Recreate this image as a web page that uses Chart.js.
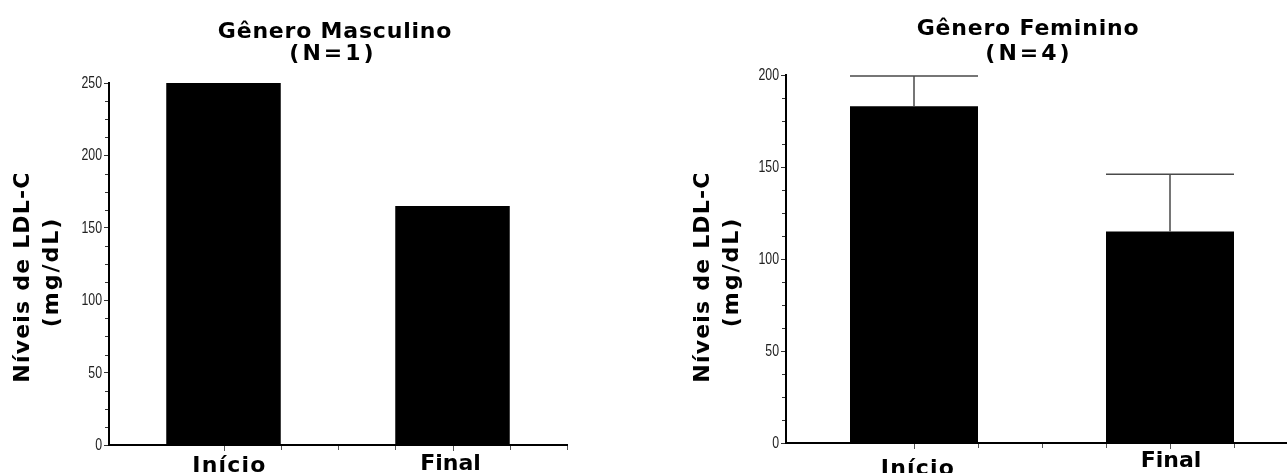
<!DOCTYPE html>
<html>
<head>
<meta charset="utf-8">
<script src="https://cdn.jsdelivr.net/npm/chart.js@4.4.1/dist/chart.umd.min.js"></script>
<style>
  html, body { margin: 0; padding: 0; background: #fff; overflow: hidden; width: 1287px; height: 473px; }
  canvas { position: absolute; top: 0; }
  #c1 { left: 0; }
  #c2 { left: 680px; }
</style>
</head>
<body>
<canvas id="c1" width="580" height="473"></canvas>
<canvas id="c2" width="618" height="473"></canvas>
<script>
// ---- data ----
const categories = ['Início', 'Final'];
const maleValues = [250, 165];
const femaleValues = [183, 115];
const femaleErrors = [16.5, 31];
const maleTickLabels = [0, 50, 100, 150, 200, 250];
const femaleTickLabels = [0, 50, 100, 150, 200];
const maleTitle = ['Gênero Masculino', '(N=1)'];
const femaleTitle = ['Gênero Feminino', '(N=4)'];
const yTitle = ['Níveis de LDL-C', '(mg/dL)'];

const BOLD = "'DejaVu Sans', Verdana, sans-serif";
const TICKF = "'Liberation Sans', Arial, sans-serif";

const deco = {
  id: 'deco',
  afterDatasetsDraw(chart, args, o) {
    const ctx = chart.ctx;
    const xs = chart.scales.x, ys = chart.scales.y;
    const area = chart.chartArea;
    ctx.save();
    // minor y ticks
    ctx.strokeStyle = '#333';
    ctx.lineWidth = 1;
    for (let v = 0; v <= ys.max + 0.001; v += o.minorStep) {
      if (Math.abs(v % 50) < 0.001) continue;
      const y = Math.round(ys.getPixelForValue(v)) + 0.5;
      ctx.beginPath(); ctx.moveTo(area.left - 4, y); ctx.lineTo(area.left - 1, y); ctx.stroke();
    }
    // y tick labels (condensed)
    ctx.fillStyle = '#222';
    ctx.font = '16px ' + TICKF;
    ctx.textAlign = 'right';
    ctx.textBaseline = 'middle';
    o.tickLabels.forEach(v => {
      ctx.save();
      ctx.translate(area.left - 7, ys.getPixelForValue(v) + 0.5);
      ctx.scale(0.77, 1);
      ctx.fillText(String(v), 0, 0);
      ctx.restore();
    });
    // x ticks
    ctx.strokeStyle = '#555';
    for (let v = 0; v <= categories.length - 0.5 + 0.001; v += 0.25) {
      const x = Math.round(xs.getPixelForValue(v)) + 0.5;
      const len = (Math.abs(v - Math.round(v)) < 0.001) ? 5 : 4;
      ctx.beginPath(); ctx.moveTo(x, area.bottom + 1); ctx.lineTo(x, area.bottom + 1 + len); ctx.stroke();
    }
    // error bars
    if (o.errors) {
      const meta = chart.getDatasetMeta(0);
      const vals = chart.data.datasets[0].data;
      ctx.strokeStyle = '#4a4a4a';
      ctx.lineWidth = 1.5;
      meta.data.forEach((bar, i) => {
        const yTop = ys.getPixelForValue(vals[i] + o.errors[i]);
        const half = bar.width / 2;
        ctx.beginPath();
        ctx.moveTo(bar.x, bar.y); ctx.lineTo(bar.x, yTop);
        ctx.moveTo(bar.x - half, yTop); ctx.lineTo(bar.x + half, yTop);
        ctx.stroke();
      });
    }
    // titles
    ctx.fillStyle = '#000';
    ctx.textAlign = 'center';
    ctx.textBaseline = 'alphabetic';
    ctx.font = 'bold 22px ' + BOLD;
    ctx.letterSpacing = '0.8px';
    ctx.fillText(o.title[0], o.titleX, o.titleY[0]);
    ctx.letterSpacing = '3px';
    ctx.fillText(o.title[1], o.titleX + o.title2Dx, o.titleY[1]);
    // y title
    ctx.font = 'bold 22px ' + BOLD;
    ctx.textBaseline = 'middle';
    ctx.letterSpacing = '1.2px';
    ctx.save(); ctx.translate(o.yTitleX[0], o.yTitleY[0]); ctx.rotate(-Math.PI / 2);
    ctx.fillText(yTitle[0], 0, 0); ctx.restore();
    ctx.letterSpacing = '2px';
    ctx.save(); ctx.translate(o.yTitleX[1], o.yTitleY[1]); ctx.rotate(-Math.PI / 2);
    ctx.fillText(yTitle[1], 0, 0); ctx.restore();
    // x category labels
    ctx.textBaseline = 'alphabetic';
    ctx.font = 'bold 22px ' + BOLD;
    categories.forEach((c, i) => {
      ctx.letterSpacing = o.xLabelSpacing[i] + 'px';
      ctx.fillText(c, xs.getPixelForValue(i) + o.xLabelDx[i], o.xLabelY[i]);
    });
    ctx.restore();
  }
};

function makeChart(id, values, tickLabels, opts) {
  const yMax = tickLabels[tickLabels.length - 1];
  return new Chart(document.getElementById(id), {
    type: 'bar',
    data: {
      labels: categories,
      datasets: [{
        data: values,
        backgroundColor: '#000',
        borderWidth: 0,
        categoryPercentage: 0.5,
        barPercentage: 1.0
      }]
    },
    options: {
      responsive: false,
      animation: false,
      devicePixelRatio: 1,
      layout: { padding: { top: opts.top, right: opts.right, left: 0, bottom: 0 } },
      plugins: { legend: { display: false }, tooltip: { enabled: false }, deco: Object.assign({ tickLabels }, opts.deco) },
      scales: {
        x: {
          type: 'category',
          offset: true,
          grid: { display: false },
          border: { display: true, color: '#000', width: 2 },
          ticks: { display: false },
          afterFit: s => { s.height = opts.xHeight; }
        },
        y: {
          min: 0, max: yMax,
          afterBuildTicks: s => { s.ticks = tickLabels.map(v => ({ value: v })); },
          grid: { display: true, drawOnChartArea: false, drawTicks: true, tickLength: 5, tickColor: '#333', tickWidth: 1 },
          border: { display: true, color: '#000', width: 2 },
          ticks: { padding: 2, color: 'rgba(0,0,0,0)', font: { size: 15 } },
          afterFit: s => { s.width = opts.yWidth; }
        }
      }
    },
    plugins: [deco]
  });
}

makeChart('c1', maleValues, maleTickLabels, {
  top: 83, right: 13, xHeight: 28, yWidth: 109,
  deco: {
    minorStep: 12.5, errors: null, title: maleTitle, titleX: 335, title2Dx: -2, titleY: [38, 60],
    yTitleX: [23, 52], yTitleY: [277, 272], xLabelY: [472, 470], xLabelDx: [6, -2], xLabelSpacing: [1.2, 0]
  }
});
makeChart('c2', femaleValues, femaleTickLabels, {
  top: 75, right: 0, xHeight: 30, yWidth: 106,
  deco: {
    minorStep: 12.5, errors: femaleErrors, title: femaleTitle, titleX: 348, title2Dx: 1, titleY: [35, 60],
    yTitleX: [23, 52], yTitleY: [277, 272], xLabelY: [475, 467], xLabelDx: [4, 1], xLabelSpacing: [1.2, 0]
  }
});
</script>
</body>
</html>
